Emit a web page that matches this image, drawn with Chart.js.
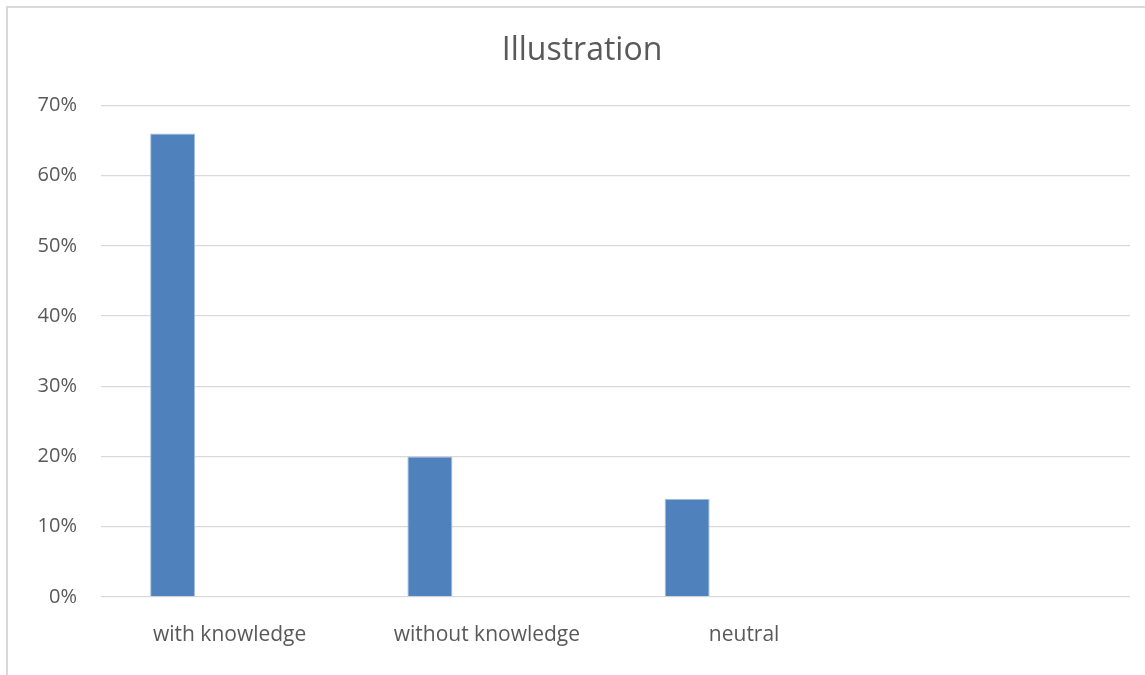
<!DOCTYPE html>
<html>
<head>
<meta charset="utf-8">
<script src="https://cdn.jsdelivr.net/npm/chart.js@4"></script>
<style>
  html, body { margin: 0; padding: 0; background: #fff; }
  #wrap { position: relative; width: 1145px; height: 675px; overflow: hidden; }
  #frame { position: absolute; left: 6px; top: 6px; width: 1200px; height: 720px;
           border-left: 2px solid #d9d9d9; border-top: 2px solid #d9d9d9; box-sizing: border-box; pointer-events: none; }
  canvas { position: absolute; left: 0; top: 0; }
</style>
</head>
<body>
<div id="wrap">
  <canvas id="c" width="1145" height="675"></canvas>
  <div id="frame"></div>
</div>
<script>
const titleText = 'Illustration';
const categories = ['with knowledge', 'without knowledge', 'neutral', ''];
const seriesValues = [66, 20, 14, null];
const emptySeries = [null, null, null, null];
const yTicks = [0, 10, 20, 30, 40, 50, 60, 70];

const FONT = "'Open Sans', 'Liberation Sans', sans-serif";
const TXT = '#595959';
const GRID = '#d9d9d9';

new Chart(document.getElementById('c'), {
  type: 'bar',
  data: {
    labels: categories,
    datasets: [
      { label: 'Series1', data: seriesValues, backgroundColor: '#4f81bd', borderColor: '#a8c0de', borderWidth: 1,
        categoryPercentage: 0.886, barPercentage: 0.395 },
      { label: 'Series2', data: emptySeries, backgroundColor: '#c0504d',
        categoryPercentage: 0.886, barPercentage: 0.395 }
    ]
  },
  options: {
    responsive: false,
    animation: false,
    layout: { padding: { left: 34, right: 15, top: 0, bottom: 0 } },
    plugins: {
      legend: { display: false },
      tooltip: { enabled: false },
      title: {
        display: true, text: titleText, color: TXT,
        font: { family: FONT, size: 32, weight: 'normal' },
        padding: { top: 32, bottom: 35 }
      }
    },
    scales: {
      x: {
        grid: { display: false, drawTicks: false },
        border: { display: false },
        ticks: { color: TXT, font: { family: FONT, size: 21 }, padding: 25, maxRotation: 0, autoSkip: false },
        afterFit: (s) => { s.height = 78; }
      },
      y: {
        min: 0, max: 70,
        afterBuildTicks: (s) => { s.ticks = yTicks.map(v => ({ value: v })); },
        grid: { color: GRID, lineWidth: 1.3, drawTicks: false },
        border: { display: false },
        ticks: { color: TXT, font: { family: FONT, size: 20 }, padding: 24, callback: (v) => v + '%' },
        afterFit: (s) => { s.width = 67; }
      }
    }
  }
});
</script>
</body>
</html>
